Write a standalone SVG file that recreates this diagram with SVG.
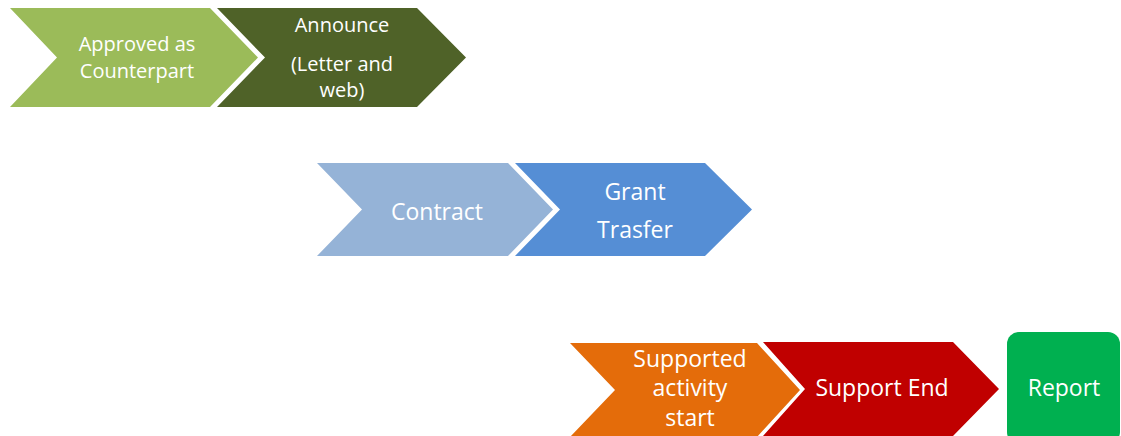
<svg xmlns="http://www.w3.org/2000/svg" width="1121" height="436" viewBox="0 0 1121 436">
<style>
text{font-family:"Open Sans","Noto Sans","Liberation Sans",sans-serif;fill:#ffffff;text-anchor:middle}
.r1{font-size:20px}
.r2{font-size:23px}
.r3{font-size:23px}
</style>
<rect width="1121" height="436" fill="#ffffff"/>
<g id="connectors"></g>
<g id="approved">
<polygon points="10,8 210,8 258,57.5 210,107 10,107 57,57.5" fill="#9BBB59"/>
<text class="r1" x="137" y="51">Approved as</text>
<text class="r1" x="137" y="77.5">Counterpart</text>
</g>
<g id="announce">
<polygon points="217,8 417,8 466,57.5 417,107 217,107 265,57.5" fill="#4F6228"/>
<text class="r1" x="342" y="32">Announce</text>
<text class="r1" x="342" y="70.5">(Letter and</text>
<text class="r1" x="342" y="97">web)</text>
</g>
<g id="contract">
<polygon points="317,163 508,163 553,209.5 508,256 317,256 362,209.5" fill="#95B3D7"/>
<text class="r2" x="437" y="220">Contract</text>
</g>
<g id="grant">
<polygon points="515,163 705,163 752,209.5 705,256 515,256 560,209.5" fill="#558ED5"/>
<text class="r2" x="635" y="200">Grant</text>
<text class="r2" x="635" y="238">Trasfer</text>
</g>
<g id="activity-start">
<polygon points="570,343 757,343 800,390 757,437 570,437 615,390" fill="#E46C0A"/>
<text class="r3" x="690" y="367">Supported</text>
<text class="r3" x="690" y="396">activity</text>
<text class="r3" x="690" y="426">start</text>
</g>
<g id="support-end">
<polygon points="763,342 953,342 999,389 953,436 763,436 805,389" fill="#C00000"/>
<text class="r3" x="882" y="396">Support End</text>
</g>
<g id="report">
<rect x="1007" y="332" width="113" height="112" rx="12" fill="#00B050"/>
<text class="r3" x="1064" y="396">Report</text>
</g>
</svg>
